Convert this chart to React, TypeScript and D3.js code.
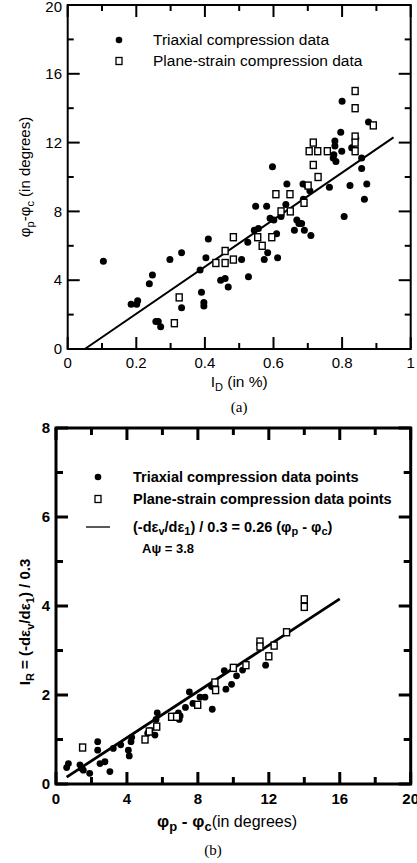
import React from 'react';
import * as d3 from 'd3';

// ---------- Chart (a) data ----------
const topTriaxial: [number, number][] = [
  [0.104, 5.1], [0.185, 2.6], [0.201, 2.6], [0.204, 2.8], [0.238, 3.8], [0.247, 4.3],
  [0.257, 1.6], [0.264, 1.6], [0.271, 1.3], [0.298, 5.2], [0.332, 5.6], [0.332, 2.4],
  [0.386, 4.6], [0.39, 3.3], [0.397, 2.7], [0.397, 2.5], [0.403, 5.3], [0.41, 6.4],
  [0.446, 4.0], [0.459, 4.1], [0.468, 3.6], [0.507, 5.2], [0.525, 6.2], [0.527, 4.2],
  [0.544, 6.9], [0.556, 7.0], [0.573, 5.2], [0.583, 5.6], [0.612, 5.3], [0.609, 6.7],
  [0.548, 8.3], [0.58, 8.3], [0.59, 7.6], [0.601, 7.5], [0.622, 7.7], [0.636, 8.4],
  [0.639, 9.6], [0.597, 10.6], [0.661, 6.9], [0.668, 7.5], [0.674, 7.3], [0.682, 7.3],
  [0.69, 6.9], [0.709, 6.6], [0.687, 8.7], [0.686, 9.6], [0.697, 9.5], [0.706, 9.2],
  [0.763, 9.4], [0.757, 11.5], [0.774, 11.1], [0.782, 10.9], [0.776, 11.3], [0.779, 11.8],
  [0.779, 12.1], [0.799, 11.5], [0.796, 12.6], [0.8, 14.4], [0.828, 11.7], [0.84, 12.25],
  [0.877, 13.2], [0.823, 9.5], [0.806, 7.7], [0.857, 11.1], [0.857, 10.5], [0.872, 9.6],
  [0.865, 8.7],
];
const topPlane: [number, number][] = [
  [0.311, 1.5], [0.325, 3.0], [0.432, 5.0], [0.459, 5.0], [0.459, 5.7], [0.483, 5.2],
  [0.483, 6.5], [0.554, 6.5], [0.567, 6.0], [0.595, 6.5], [0.622, 8.0], [0.649, 8.0],
  [0.607, 9.0], [0.648, 9.0], [0.689, 8.5], [0.701, 9.5], [0.73, 10.0], [0.716, 10.7],
  [0.704, 11.5], [0.729, 11.5], [0.716, 12.0], [0.757, 11.5], [0.838, 15.0], [0.838, 14.0],
  [0.891, 13.0], [0.838, 12.35], [0.838, 12.0], [0.838, 11.5],
];
const topFit: [number, number][] = [[0.05, 0], [0.95, 12.3]];
const topXTicks = [0, 0.2, 0.4, 0.6, 0.8, 1];
const topXLabels = ['0', '0.2', '0.4', '0.6', '0.8', '1'];
const topXMinor = [0.1, 0.3, 0.5, 0.7, 0.9];
const topYTicks = [0, 4, 8, 12, 16, 20];
const topYMinor = [2, 6, 10, 14, 18];
const topLegend = ['Triaxial compression data', 'Plane-strain compression data'];

// ---------- Chart (b) data ----------
const botTriaxial: [number, number][] = [
  [0.6, 0.37], [0.7, 0.46], [1.35, 0.43], [1.45, 0.35], [1.54, 0.31], [1.9, 0.24],
  [2.35, 0.95], [2.35, 0.76], [2.48, 0.46], [2.76, 0.5], [3.04, 0.28], [3.23, 0.8],
  [3.65, 0.88], [4.08, 0.76], [4.13, 0.63], [4.23, 0.95], [4.27, 1.05], [5.17, 1.14],
  [5.3, 1.2], [5.58, 1.1], [5.64, 1.45], [5.71, 1.6], [6.52, 1.51], [6.9, 1.6],
  [6.95, 1.45], [7.0, 1.53], [7.3, 1.72], [7.52, 2.07], [7.72, 1.81], [8.12, 1.95],
  [8.4, 1.95], [8.81, 1.68], [8.77, 2.19], [9.49, 2.55], [9.58, 2.13], [9.9, 2.24],
  [10.18, 2.43], [10.52, 2.56], [11.82, 2.67],
];
const botPlane: [number, number][] = [
  [1.5, 0.82], [5.02, 1.0], [5.26, 1.18], [5.68, 1.29], [6.52, 1.51], [6.8, 1.51],
  [7.99, 1.78], [8.96, 2.28], [9.0, 2.11], [10.0, 2.61], [10.71, 2.67], [11.5, 3.2],
  [11.5, 3.09], [12.0, 2.87], [12.3, 3.11], [13.0, 3.41], [14.0, 4.15], [14.0, 3.98],
];
const botFit: [number, number][] = [[0.6, 0.156], [16, 4.16]];
const botXTicks = [0, 4, 8, 12, 16, 20];
const botXMinor = [2, 6, 10, 14, 18];
const botYTicks = [0, 2, 4, 6, 8];
const botYMinor = [1, 3, 5, 7];

const FONT = '"Liberation Sans", Arial, Helvetica, sans-serif';
const SERIF = '"Liberation Serif", "Times New Roman", serif';

function Frame({ x, y, xTicks, xMinor, yTicks, yMinor, sw, major, minor }: any) {
  const [x0, x1] = x.range();
  const [y0, y1] = y.range();
  const segs: JSX.Element[] = [];
  xTicks.forEach((t: number, i: number) => {
    const px = x(t);
    segs.push(<line key={'xb' + i} x1={px} x2={px} y1={y0} y2={y0 - major} />);
    segs.push(<line key={'xt' + i} x1={px} x2={px} y1={y1} y2={y1 + major} />);
  });
  xMinor.forEach((t: number, i: number) => {
    const px = x(t);
    segs.push(<line key={'xbm' + i} x1={px} x2={px} y1={y0} y2={y0 - minor} />);
    segs.push(<line key={'xtm' + i} x1={px} x2={px} y1={y1} y2={y1 + minor} />);
  });
  yTicks.forEach((t: number, i: number) => {
    const py = y(t);
    segs.push(<line key={'yl' + i} x1={x0} x2={x0 + major} y1={py} y2={py} />);
    segs.push(<line key={'yr' + i} x1={x1} x2={x1 - major} y1={py} y2={py} />);
  });
  yMinor.forEach((t: number, i: number) => {
    const py = y(t);
    segs.push(<line key={'ylm' + i} x1={x0} x2={x0 + minor} y1={py} y2={py} />);
    segs.push(<line key={'yrm' + i} x1={x1} x2={x1 - minor} y1={py} y2={py} />);
  });
  return (
    <g stroke="#000" strokeWidth={sw} fill="none">
      <rect x={x0} y={y1} width={x1 - x0} height={y0 - y1} />
      {segs}
    </g>
  );
}

export default function App() {
  // chart (a)
  const xA = d3.scaleLinear().domain([0, 1]).range([67.7, 410.7]);
  const yA = d3.scaleLinear().domain([0, 20]).range([349, 5]);
  // chart (b)
  const xB = d3.scaleLinear().domain([0, 20]).range([56, 410.7]);
  const yB = d3.scaleLinear().domain([0, 8]).range([784, 428]);
  const line = d3.line<[number, number]>();
  const fitA = line(topFit.map(([a, b]) => [xA(a), yA(b)]) as [number, number][]);
  const fitB = line(botFit.map(([a, b]) => [xB(a), yB(b)]) as [number, number][]);

  return (
    <svg width={417} height={863} style={{ position: 'absolute', left: 0, top: 0, background: '#fff' }}
      fontFamily={FONT}>
      <rect x={0} y={0} width={417} height={863} fill="#fff" />
      {/* ================= (a) ================= */}
      <Frame x={xA} y={yA} xTicks={topXTicks} xMinor={topXMinor} yTicks={topYTicks} yMinor={topYMinor}
        sw={2} major={12} minor={6} />
      {topYTicks.map((t) => (
        <text key={'ay' + t} x={62} y={yA(t) + (t === 20 ? 2 : 0)} dy="0.35em" textAnchor="end" fontSize={15}>{t}</text>
      ))}
      {topXTicks.map((t, i) => (
        <text key={'ax' + t} x={xA(t)} y={368} textAnchor="middle" fontSize={15}>{topXLabels[i]}</text>
      ))}
      <text x={xA(0.5)} y={387} textAnchor="middle" fontSize={15.5}>
        I<tspan fontSize={11} dy={4}>D</tspan><tspan dy={-4}> (in %)</tspan>
      </text>
      <text transform={`translate(30,${yA(10)}) rotate(-90)`} textAnchor="middle" fontSize={15}>
        φ<tspan fontSize={11} dy={4}>p</tspan><tspan dy={-4}>-φ</tspan><tspan fontSize={11} dy={4}>c</tspan>
        <tspan dy={-4}> (in degrees)</tspan>
      </text>
      <text x={xA(0.5)} y={412} textAnchor="middle" fontSize={15} fontFamily={SERIF}>(a)</text>
      {/* fit line */}
      <path d={fitA || ''} stroke="#000" strokeWidth={2} fill="none" />
      {topTriaxial.map(([a, b], i) => (
        <circle key={'at' + i} cx={xA(a)} cy={yA(b)} r={3.5} fill="#000" />
      ))}
      {topPlane.map(([a, b], i) => (
        <rect key={'ap' + i} x={xA(a) - 3} y={yA(b) - 3.5} width={6} height={7} fill="#fff" stroke="#000" strokeWidth={1.4} />
      ))}
      {/* legend (a) */}
      <circle cx={119} cy={40} r={3.3} fill="#000" />
      <rect x={116} y={57.5} width={6} height={7} fill="#fff" stroke="#000" strokeWidth={1.3} />
      <text x={153} y={40} dy="0.35em" fontSize={15.5}>{topLegend[0]}</text>
      <text x={153} y={61} dy="0.35em" fontSize={15.5}>{topLegend[1]}</text>

      {/* ================= (b) ================= */}
      <Frame x={xB} y={yB} xTicks={botXTicks} xMinor={botXMinor} yTicks={botYTicks} yMinor={botYMinor}
        sw={3} major={12} minor={7} />
      {botYTicks.map((t) => (
        <text key={'by' + t} x={50} y={yB(t)} dy="0.35em" textAnchor="end" fontSize={15} fontWeight="bold">{t}</text>
      ))}
      {botXTicks.map((t) => (
        <text key={'bx' + t} x={xB(t)} y={804} textAnchor="middle" fontSize={15} fontWeight="bold">{t}</text>
      ))}
      <text x={157} y={827} fontSize={17}>
        <tspan fontWeight="bold">φ</tspan><tspan fontWeight="bold" fontSize={13} dy={4}>p</tspan>
        <tspan fontWeight="bold" dy={-4}> - φ</tspan><tspan fontWeight="bold" fontSize={13} dy={4}>c</tspan>
        <tspan dy={-4} fontSize={16}>(in degrees)</tspan>
      </text>
      <text transform={`translate(30,${622}) rotate(-90)`} textAnchor="middle" fontSize={15} fontWeight="bold">
        I<tspan fontSize={11} dy={4}>R</tspan><tspan dy={-4}> = (-dε</tspan><tspan fontSize={11} dy={4}>v</tspan>
        <tspan dy={-4}>/dε</tspan><tspan fontSize={11} dy={4}>1</tspan><tspan dy={-4}>) / 0.3</tspan>
      </text>
      <text x={213} y={855} textAnchor="middle" fontSize={15} fontFamily={SERIF}>(b)</text>
      <path d={fitB || ''} stroke="#000" strokeWidth={2.8} fill="none" />
      {botTriaxial.map(([a, b], i) => (
        <circle key={'bt' + i} cx={xB(a)} cy={yB(b)} r={3.4} fill="#000" />
      ))}
      {botPlane.map(([a, b], i) => (
        <rect key={'bp' + i} x={xB(a) - 3} y={yB(b) - 3.5} width={6} height={7} fill="#fff" stroke="#000" strokeWidth={1.4} />
      ))}
      {/* legend (b) */}
      <circle cx={98} cy={477} r={3.3} fill="#000" />
      <rect x={95} y={495.5} width={6} height={7} fill="#fff" stroke="#000" strokeWidth={1.3} />
      <line x1={86} x2={110} y1={527} y2={527} stroke="#000" strokeWidth={1.3} />
      <g fontWeight="bold" fontSize={14.5}>
        <text x={133} y={477} dy="0.35em">Triaxial compression data points</text>
        <text x={133} y={499} dy="0.35em">Plane-strain compression data points</text>
        <text x={133} y={527} dy="0.35em">
          (-dε<tspan fontSize={11} dy={3}>v</tspan><tspan dy={-3}>/dε</tspan><tspan fontSize={11} dy={3}>1</tspan>
          <tspan dy={-3}>) / 0.3 = 0.26 (φ</tspan><tspan fontSize={11} dy={3}>p</tspan><tspan dy={-3}> - φ</tspan>
          <tspan fontSize={11} dy={3}>c</tspan><tspan dy={-3}>)</tspan>
        </text>
        <text x={142} y={548} dy="0.35em" fontSize={13}>Aψ = 3.8</text>
      </g>
    </svg>
  );
}
